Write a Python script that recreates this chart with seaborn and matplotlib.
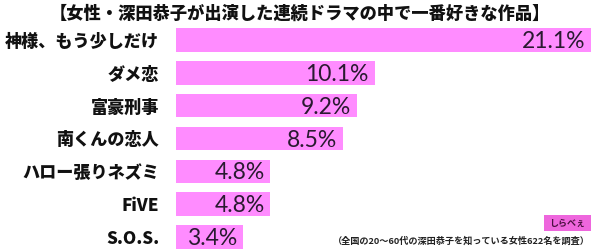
import matplotlib
matplotlib.use("Agg")
import matplotlib.pyplot as plt
import seaborn as sns
import pandas as pd
from matplotlib.patches import Rectangle

categories = ["神様、もう少しだけ", "ダメ恋", "富豪刑事", "南くんの恋人", "ハロー張りネズミ", "FiVE", "S.O.S."]
values = [21.1, 10.1, 9.2, 8.5, 4.8, 4.8, 3.4]
value_labels = ["21.1%", "10.1%", "9.2%", "8.5%", "4.8%", "4.8%", "3.4%"]
title = "【女性・深田恭子が出演した連続ドラマの中で一番好きな作品】"
footnote = "（全国の20～60代の深田恭子を知っている女性622名を調査）"

sns.set_theme(style="white")
plt.rcParams['font.family'] = ['Noto Sans CJK JP', 'DejaVu Sans']

df = pd.DataFrame({"cat": categories, "val": values})

fig = plt.figure(figsize=(6.0, 2.49), dpi=100)
ax = fig.add_axes([176/600, 0, 415/600, (249-23.6)/249])
sns.barplot(data=df, x="val", y="cat", orient="h", color="#ff8cff", saturation=1,
            width=0.72, ax=ax, edgecolor="none")
ax.set_xlim(0, 21.1)
ax.set_ylim(6.366, -0.5)
ax.set_xlabel("")
ax.set_ylabel("")
ax.set_xticks([])
for s in ax.spines.values():
    s.set_visible(False)
ax.tick_params(axis="y", length=0, pad=12)
for t in ax.get_yticklabels():
    t.set_fontweight("heavy")
    t.set_fontsize(12.3)
    t.set_color("#111111")

for i, (v, lab) in enumerate(zip(values, value_labels)):
    ax.text(v - 0.3, i + 0.05, lab, ha="right", va="center", fontsize=16.5,
            family=["Lato", "DejaVu Sans"], color="#2a1a30")

fig.text(0.5, 1 - 14/249, title, ha="center", va="center", fontsize=12.4,
         fontweight="heavy", color="#111111")
fig.text(590/600, 1 - 241/249, footnote, ha="right", va="center", fontsize=6.6,
         fontweight="bold", color="#222222")

# logo
fig.patches.append(Rectangle((544/600, 1 - 231/249), 47/600, 16/249,
                             transform=fig.transFigure, facecolor="#ee66dd",
                             edgecolor="none"))
fig.text(567/600, 1 - 223.5/249, "しらべぇ", ha="center", va="center", fontsize=6.5,
         fontweight="bold", color="#4a1040")

fig.savefig("out.png", dpi=100)
